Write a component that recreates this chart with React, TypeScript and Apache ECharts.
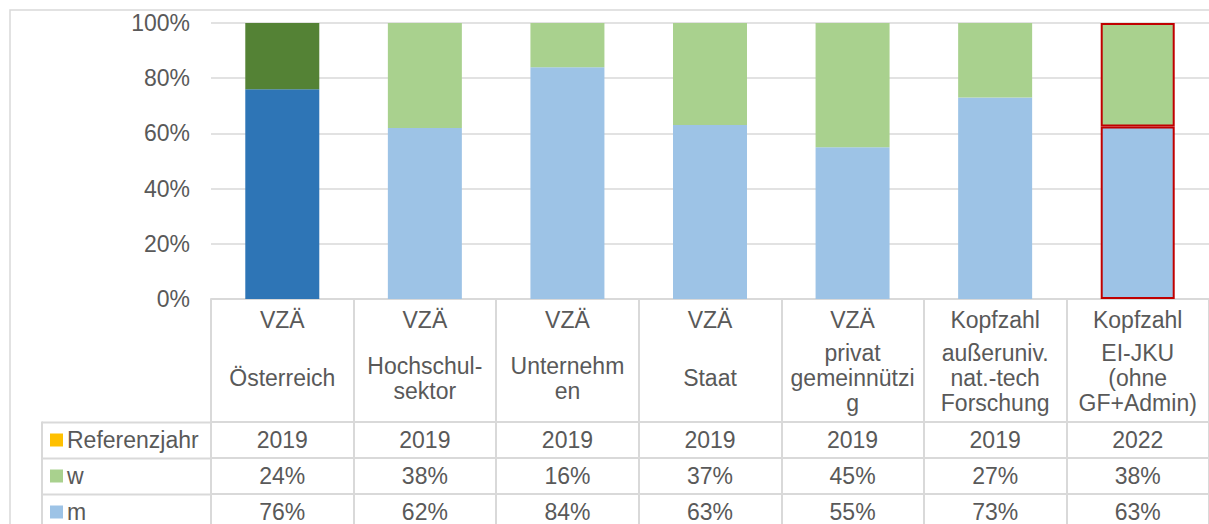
import React, { useEffect, useRef } from "react";
import * as echarts from "echarts";

const categories = [
  "Österreich",
  "Hochschulsektor",
  "Unternehmen",
  "Staat",
  "privat gemeinnützig",
  "außeruniv. nat.-tech Forschung",
  "EI-JKU (ohne GF+Admin)",
];
const measureLabels = ["VZÄ", "VZÄ", "VZÄ", "VZÄ", "VZÄ", "Kopfzahl", "Kopfzahl"];
const headerLabels = [
  "Österreich",
  "Hochschul-\nsektor",
  "Unternehm\nen",
  "Staat",
  "privat\ngemeinnützi\ng",
  "außeruniv.\nnat.-tech\nForschung",
  "EI-JKU\n(ohne\nGF+Admin)",
];
const referenceYears = ["2019", "2019", "2019", "2019", "2019", "2019", "2022"];
const wShare = [24, 38, 16, 37, 45, 27, 37.5];
const mShare = [76, 62, 84, 63, 55, 73, 62.5];
const legendNames = ["Referenzjahr", "w", "m"];
const yMin = 0;
const yMax = 100;
const yInterval = 20;

const FONT = "'Liberation Sans', Arial, sans-serif";
const FS = 23;
const TEXT = "#595959";
const LINE = "#d9d9d9";
const M_LIGHT = "#9DC3E6";
const W_LIGHT = "#A9D18E";
const M_DARK = "#2E75B6";
const W_DARK = "#548235";
const YELLOW = "#FFC000";
const RED = "#C00000";

const pct = (v: number) => `${Math.round(v)}%`;

function tableAxis(
  offset: number,
  labels: string[],
  margin: number,
  tickLen: number,
  showLine: boolean,
  lineHeight = 25
) {
  return {
    type: "category",
    gridIndex: 0,
    position: "bottom",
    offset,
    data: categories,
    boundaryGap: true,
    axisLine: { show: showLine, lineStyle: { color: LINE, width: 2 } },
    axisTick: {
      show: tickLen > 0,
      interval: 0,
      length: tickLen,
      alignWithLabel: false,
      lineStyle: { color: LINE, width: 2 },
    },
    axisLabel: {
      interval: 0,
      margin,
      verticalAlign: "middle",
      align: "center",
      color: TEXT,
      fontSize: FS,
      fontFamily: FONT,
      lineHeight,
      formatter: (_v: string, i: number) => labels[i],
    },
    splitLine: { show: false },
  };
}

function legendRow(name: string, top: number) {
  return {
    data: [name],
    orient: "horizontal",
    left: 50,
    top,
    itemWidth: 13,
    itemHeight: 13,
    icon: "rect",
    selectedMode: false,
    padding: 0,
    textStyle: { color: TEXT, fontSize: FS, fontFamily: FONT, lineHeight: 24, padding: [0, 0, 0, -1] },
  };
}

export default function App() {
  const ref = useRef<HTMLDivElement>(null);
  useEffect(() => {
    if (!ref.current) return;
    const chart = echarts.init(ref.current, null, { renderer: "svg" });
    const last = categories.length - 1;
    const mData = mShare.map((v, i) => {
      if (i === 0) return { value: v, itemStyle: { color: M_DARK } };
      if (i === last)
        return { value: v, itemStyle: { color: M_LIGHT, borderColor: RED, borderWidth: 2 } };
      return v;
    });
    const wData = wShare.map((v, i) => {
      if (i === 0) return { value: v, itemStyle: { color: W_DARK } };
      if (i === last)
        return { value: v, itemStyle: { color: W_LIGHT, borderColor: RED, borderWidth: 2 } };
      return v;
    });
    chart.setOption({
      animation: false,
      backgroundColor: "#ffffff",
      textStyle: { fontFamily: FONT },
      grid: { left: 211, top: 23, width: 1001, height: 276, containLabel: false },
      legend: [
        legendRow(legendNames[0], 428),
        legendRow(legendNames[1], 464),
        legendRow(legendNames[2], 500),
      ],
      xAxis: [
        tableAxis(0, measureLabels, 20.5, 123, true),
        tableAxis(0, headerLabels, 79, 0, false),
        tableAxis(123, referenceYears, 17.5, 36, true),
        tableAxis(159, wShare.map(pct), 17.5, 36, true),
        tableAxis(195, mShare.map(pct), 17.5, 36, true),
      ],
      yAxis: {
        type: "value",
        min: yMin,
        max: yMax,
        interval: yInterval,
        axisLine: { show: false },
        axisTick: { show: false },
        axisLabel: {
          margin: 21,
          color: TEXT,
          fontSize: FS,
          fontFamily: FONT,
          formatter: (v: number) => `${v}%`,
        },
        splitLine: { lineStyle: { color: LINE, width: 1.5 } },
      },
      graphic: [
        {
          type: "rect",
          shape: { x: 10, y: 10, width: 1230, height: 540 },
          style: { fill: "none", stroke: LINE, lineWidth: 1.5 },
          silent: true,
        },
        { type: "line", shape: { x1: 42, y1: 422.5, x2: 211, y2: 422.5 }, style: { stroke: LINE, lineWidth: 2 } },
        { type: "line", shape: { x1: 42, y1: 458.5, x2: 211, y2: 458.5 }, style: { stroke: LINE, lineWidth: 2 } },
        { type: "line", shape: { x1: 42, y1: 494.5, x2: 211, y2: 494.5 }, style: { stroke: LINE, lineWidth: 2 } },
        { type: "line", shape: { x1: 42, y1: 421.5, x2: 42, y2: 530 }, style: { stroke: LINE, lineWidth: 2 } },
      ],
      series: [
        {
          name: "m",
          type: "bar",
          stack: "total",
          xAxisIndex: 0,
          barWidth: 74,
          itemStyle: { color: M_LIGHT },
          data: mData,
        },
        {
          name: "w",
          type: "bar",
          stack: "total",
          xAxisIndex: 0,
          barWidth: 74,
          itemStyle: { color: W_LIGHT },
          data: wData,
        },
        {
          name: "Referenzjahr",
          type: "bar",
          stack: "total",
          xAxisIndex: 0,
          barWidth: 74,
          itemStyle: { color: YELLOW },
          data: [],
        },
      ],
    });
    return () => chart.dispose();
  }, []);
  return (
    <div
      ref={ref}
      style={{ position: "absolute", left: 0, top: 0, width: 1209, height: 524 }}
    />
  );
}
